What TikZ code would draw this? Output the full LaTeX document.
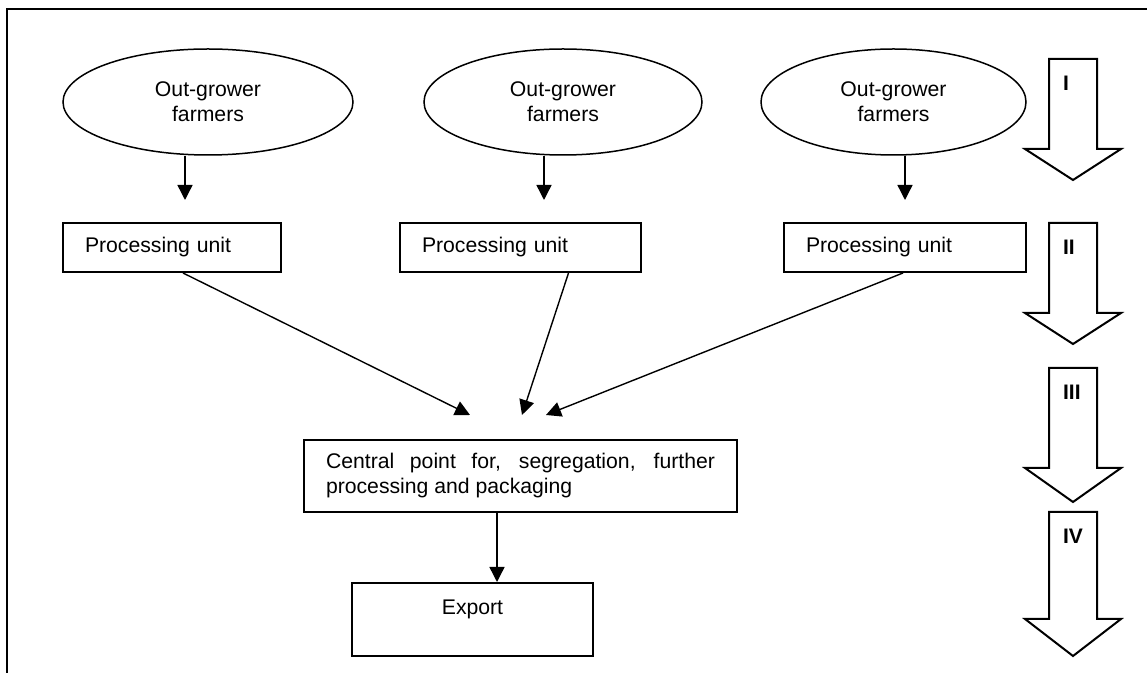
\documentclass[tikz,border=0pt]{standalone}
\usepackage{fontspec}
\setmainfont{Liberation Sans}
\usetikzlibrary{shapes.geometric,arrows.meta}

\begin{document}
\begin{tikzpicture}
  [x=0.5pt,y=-0.5pt,
   every node/.style={font=\fontsize{10.6}{12.5}\selectfont},
   farmer/.style={ellipse,draw,line width=.75pt,minimum width=#1,minimum height=53pt,inner sep=0pt,align=center},
   unit/.style={draw,line width=1pt,minimum height=24.5pt,inner xsep=11pt,text width=#1,align=left},
   flow/.style={line width=.7pt,-{Triangle[length=7.5pt,width=7.5pt]}},
   stage/.style={draw,line width=1pt,fill=white}]

  \useasboundingbox (0,0) rectangle (1147,673);
  \draw[line width=1pt] (7,673) -- (7,9) -- (1147,9);

  \node[farmer=145pt] (f1) at (208,102) {Out-grower\\farmers};
  \node[farmer=139pt] (f2) at (563,102) {Out-grower\\farmers};
  \node[farmer=132.5pt] (f3) at (893.5,102) {Out-grower\\farmers};

  \node[unit=87pt] (u1) at (172,247.5) {Processing unit};
  \node[unit=98.5pt] (u2) at (520.5,247.5) {Processing unit};
  \node[unit=99pt] (u3) at (905,247.5) {Processing unit};

  \node[unit=194.5pt,align=justify,minimum height=36pt] (cp) at (520.5,476)
    {Central point for, segregation, further\linebreak processing and packaging};
  \node[unit=98.5pt,align=center,minimum height=36.5pt] (ex) at (472.5,619.5) {Export\\\mbox{}};

  \coordinate (d1) at (185,200);
  \coordinate (d2) at (544,200);
  \coordinate (d3) at (905,200);
  \coordinate (h1) at (470,415);
  \coordinate (h2) at (522,415);
  \coordinate (h3) at (546,415);
  \coordinate (d4) at (497,583);

  \foreach \f/\d in {f1/d1,f2/d2,f3/d3}
    \draw[flow] (\d |- \f.south) -- (\d);

  \draw[flow] ([xshift=5.5pt]u1.south) -- (h1);
  \draw[flow] ([xshift=24pt]u2.south) -- (h2);
  \draw[flow] ([xshift=-1pt]u3.south) -- (h3);
  \draw[flow] (d4 |- cp.south) -- (d4 |- ex.north);

  % stages down the right side
  \foreach \t/\s/\p/\n in {59/149/180/I,223/313/344/II,368/468/502/III,512/619/656/IV}{
    \draw[stage] (1049,\t) -- (1097,\t) -- (1097,\s) -- (1121,\s) -- (1073,\p)
      -- (1025,\s) -- (1049,\s) -- cycle;
    \node[anchor=west,font=\fontsize{10.5}{12}\selectfont\bfseries] (s\n) at (1056,\t+24) {\n};
  }
\end{tikzpicture}
\end{document}
